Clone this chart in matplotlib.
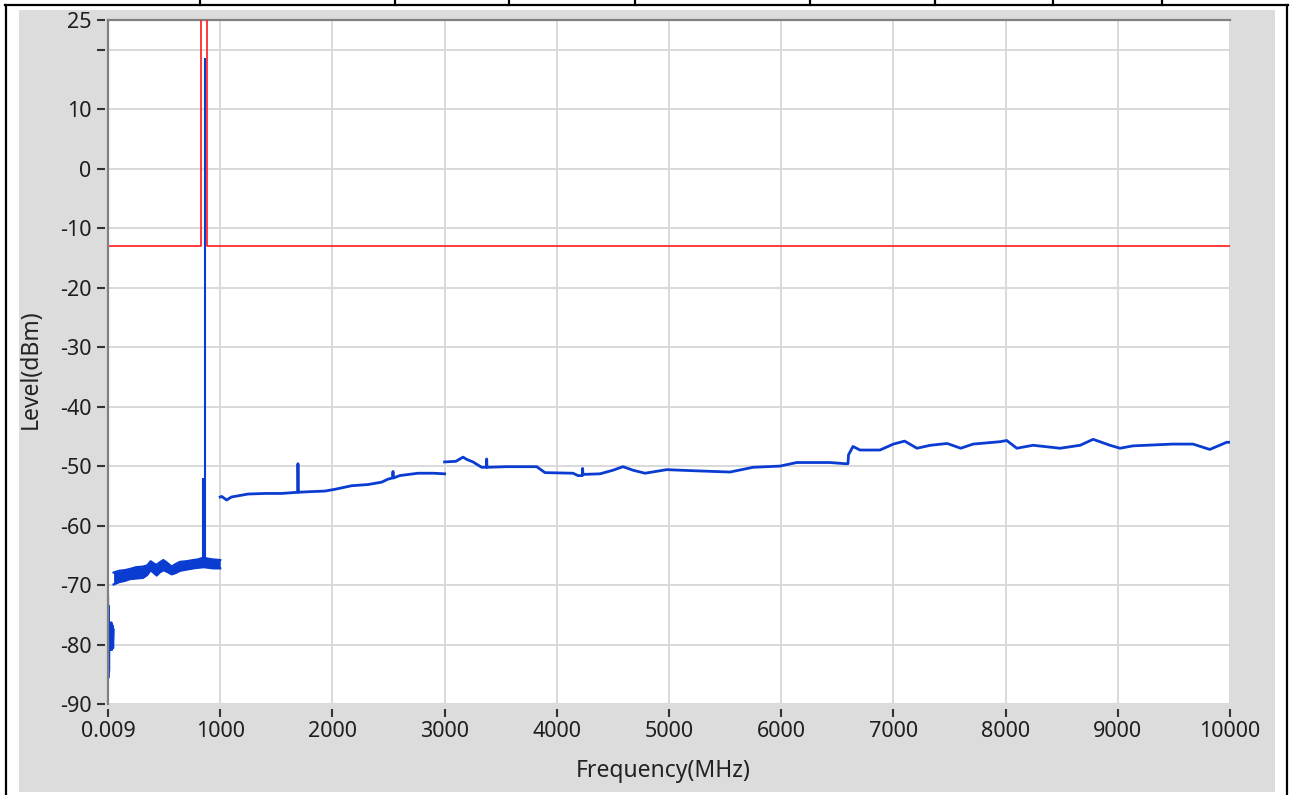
import matplotlib
matplotlib.use('Agg')
import matplotlib.pyplot as plt
from matplotlib.lines import Line2D
from matplotlib.patches import Rectangle

plt.rcParams['font.family'] = ['Noto Sans', 'DejaVu Sans']

# limit mask (dBm) - raised over the carrier band
mask_freq = [0.009, 826, 826, 879, 879, 10000]
mask_level = [-13, -13, 40, 40, -13, -13]

# 9 kHz .. 50 MHz, noisy start of the sweep
lf_freq = [0.009, 3, 6, 9, 12, 16, 20, 25, 30, 35, 40, 45, 50]
lf_level = [-72.0, -85.6, -73.5, -84.5, -76.2, -80.9, -76.5, -80.8, -76.3, -80.9, -76.8, -80.6, -77.5]

# 50 .. 1000 MHz noise band (upper / lower envelope)
band_freq = [50, 100, 150, 196, 250, 312, 350, 380, 410, 434, 460, 493, 530, 567, 600, 642, 700, 760, 800, 850, 900, 939, 1000]
band_hi = [-67.9, -67.6, -67.5, -67.3, -67.0, -66.9, -66.7, -66.0, -66.4, -66.6, -66.2, -65.8, -66.3, -66.9, -66.5, -66.1, -66.0, -65.8, -65.7, -65.4, -65.6, -65.7, -65.8]
band_lo = [-69.9, -69.5, -69.3, -69.0, -68.9, -68.8, -68.3, -67.5, -68.0, -68.4, -67.9, -67.5, -67.8, -68.2, -68.0, -67.6, -67.4, -67.2, -67.1, -67.0, -67.1, -67.2, -67.2]

# spurious + carrier
peak_freq = [850, 865]
peak_base = [-66.0, -66.0]
peak_level = [-52.0, 18.6]

# 1 .. 3 GHz
a_freq = [1000, 1013, 1058, 1100, 1248, 1400, 1548, 1690, 1693, 1697, 1800, 1934, 2023,
          2172, 2318, 2439, 2495, 2535, 2540, 2545, 2600, 2763, 2900, 3000]
a_level = [-55.2, -55.1, -55.7, -55.2, -54.7, -54.6, -54.6, -54.4, -49.6, -54.4, -54.3, -54.2, -53.9,
           -53.3, -53.1, -52.7, -52.2, -52.0, -50.9, -52.0, -51.6, -51.2, -51.2, -51.3]

# 3 .. 10 GHz
b_freq = [3000, 3100, 3164, 3200, 3253, 3330, 3372, 3375, 3378, 3553, 3821, 3895, 4144, 4189,
          4228, 4230, 4233, 4385, 4500, 4590, 4680, 4786, 4979, 5247, 5544, 5750, 5990, 6138,
          6435, 6570, 6595, 6600, 6640, 6702, 6880, 7000, 7100, 7210, 7330, 7480, 7600, 7710,
          7950, 8010, 8100, 8245, 8485, 8665, 8780, 8930, 9020, 9135, 9490, 9670, 9820, 9970, 10000]
b_level = [-49.3, -49.2, -48.5, -48.9, -49.3, -50.2, -50.2, -48.8, -50.2, -50.1, -50.1, -51.1, -51.2, -51.6,
           -51.6, -50.4, -51.4, -51.3, -50.7, -50.1, -50.7, -51.2, -50.6, -50.8, -51.0, -50.2, -50.0, -49.4,
           -49.4, -49.6, -49.6, -48.1, -46.7, -47.3, -47.3, -46.3, -45.8, -47.0, -46.5, -46.2, -47.0, -46.3,
           -45.9, -45.7, -47.0, -46.5, -47.0, -46.5, -45.5, -46.5, -47.0, -46.6, -46.3, -46.3, -47.2, -46.0, -46.0]

xtick_vals = [0.009, 1000, 2000, 3000, 4000, 5000, 6000, 7000, 8000, 9000, 10000]
xtick_labels = ['0.009', '1000', '2000', '3000', '4000', '5000', '6000', '7000', '8000', '9000', '10000']
ytick_vals = [25, 20, 10, 0, -10, -20, -30, -40, -50, -60, -70, -80, -90]
ytick_labels = ['25', '', '10', '0', '-10', '-20', '-30', '-40', '-50', '-60', '-70', '-80', '-90']

W, H = 1290, 795
fx = lambda px: px / W
fy = lambda py: 1 - py / H

fig = plt.figure(figsize=(12.9, 7.95), dpi=100, facecolor='white')

# grey panel + black frame of the surrounding table
fig.add_artist(Rectangle((fx(19), fy(792)), fx(1275) - fx(19), fy(10) - fy(792),
                         transform=fig.transFigure, facecolor='#dcdcdc', edgecolor='none', zorder=-2))
bk = dict(color='black', lw=1.6, transform=fig.transFigure)
fig.add_artist(Line2D([fx(5), fx(1288)], [fy(5), fy(5)], **bk))
fig.add_artist(Line2D([fx(6), fx(6)], [fy(5), fy(795)], **bk))
fig.add_artist(Line2D([fx(1287), fx(1287)], [fy(5), fy(795)], **bk))
for px in [200, 395, 509, 635, 810, 935, 1053, 1162]:
    fig.add_artist(Line2D([fx(px), fx(px)], [fy(0), fy(5)], **bk))

ax = fig.add_axes([fx(108), fy(704), fx(1230) - fx(108), fy(20) - fy(704)])
ax.set_facecolor('white')

blue = '#0a3cd2'
ax.plot(mask_freq, mask_level, color='#ff1a1a', lw=1.2, zorder=4)
ax.plot(lf_freq, lf_level, color=blue, lw=1.6, zorder=3)
ax.fill_between(band_freq, band_lo, band_hi, color=blue, lw=0, zorder=3)
ax.plot(band_freq, band_hi, color=blue, lw=1.6, zorder=3)
ax.plot(band_freq, band_lo, color=blue, lw=1.6, zorder=3)
ax.vlines(peak_freq, peak_base, peak_level, color=blue, lw=1.5, zorder=3)
ax.plot(a_freq, a_level, color=blue, lw=2.0, zorder=3)
ax.plot(b_freq, b_level, color=blue, lw=2.0, zorder=3)

ax.set_xlim(0.009, 10000)
ax.set_ylim(-90, 25)
ax.set_xticks(xtick_vals)
ax.set_xticklabels(xtick_labels)
ax.set_yticks(ytick_vals)
ax.set_yticklabels(ytick_labels)

ax.grid(True, color='#d9d9d9', lw=1.4)
ax.set_axisbelow(True)

for s in ['right', 'bottom', 'left']:
    ax.spines[s].set_visible(False)
ax.spines['left'].set_position(('outward', 2.2))
ax.spines['bottom'].set_position(('outward', 3.6))
ax.spines['top'].set_color('#808080')
ax.spines['top'].set_linewidth(1.6)
ax.plot([0, 0], [0, 1], transform=ax.transAxes, color='#808080', lw=1.6, clip_on=False, zorder=5)

ax.tick_params(axis='both', direction='out', length=5.8, width=1.5, color='#333333',
               labelsize=15.5, labelcolor='#1e1e1e')
ax.tick_params(axis='y', pad=4)
ax.tick_params(axis='x', pad=3)

ax.set_xlabel('Frequency(MHz)', fontsize=16.5, color='#222222')
ax.set_ylabel('Level(dBm)', fontsize=16.5, color='#222222')
ax.xaxis.set_label_coords(0.495, -0.081)
ax.yaxis.set_label_coords(-0.058, 0.49)

plt.savefig('out.png', dpi=100, facecolor='white')
